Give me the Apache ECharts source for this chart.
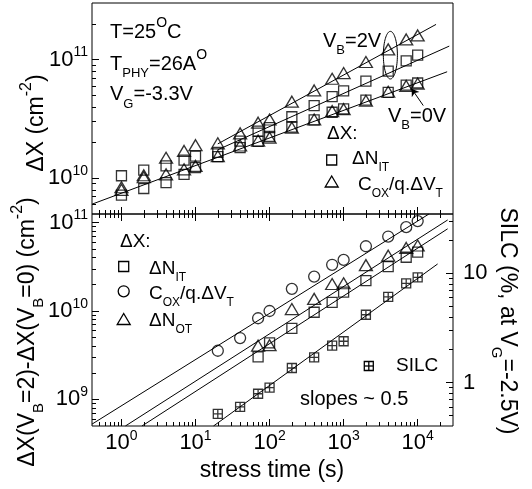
<!DOCTYPE html>
<html>
<head>
<meta charset="utf-8">
<title>stress time</title>
<script src="https://cdn.jsdelivr.net/npm/echarts@6/dist/echarts.min.js"></script>
<style>
  html, body { margin: 0; padding: 0; background: #fff; }
  #main { width: 532px; height: 489px; }
</style>
</head>
<body>
<div id="main"></div>
<script>
// ---- values ----
// stress time (s)
var stressTime = [1, 2, 4, 7, 10, 20, 40, 70, 100, 200, 400, 700, 1000, 2000, 4000, 7000, 10000];

// upper panel, dX (cm^-2)
var nitVB2 = [1.05e10, 1.17e10, 1.27e10, 1.42e10, 1.54e10, 1.65e10, 2.06e10, 2.5e10, 2.67e10, 3.3e10, 4.1e10, 4.87e10, 5.46e10, 6.6e10, 8.0e10, 9.75e10, 1.09e11];
var cvtVB2 = [8.4e9, 1.06e10, 1.49e10, 1.7e10, 1.9e10, 1.97e10, 2.39e10, 2.94e10, 3.13e10, 4.42e10, 5.5e10, 6.9e10, 7.7e10, 9.55e10, 1.22e11, 1.48e11, 1.6e11];
var nitVB0 = [7.2e9, 8.2e9, 9.2e9, 1.08e10, 1.23e10, 1.52e10, 1.81e10, 2.05e10, 2.25e10, 2.7e10, 3.1e10, 3.6e10, 3.85e10, 4.55e10, 5.3e10, 6.1e10, 6.35e10];
var cvtVB0 = [8.0e9, 1.02e10, 1.08e10, 1.19e10, 1.27e10, 1.54e10, 1.89e10, 2.08e10, 2.2e10, 2.67e10, 3.13e10, 3.68e10, 3.82e10, 4.5e10, 5.36e10, 6.0e10, 6.28e10];

// fitted lines, end points [t, dX]
var fitCvtVB2 = [[20, 1.95e10], [1.77e4, 1.98e11]];
var fitNitVB2 = [[20, 1.74e10], [2.67e4, 1.30e11]];
var fitVB0 = [[0.4, 6.05e9], [2.5e4, 7.9e10]];

// circled V_B=2V points: [t centre, dX centre, t left, dX top]
var circled = [4280, 1.09e11, 3440, 1.73e11];
// arrow from the V_B=0V label: tail, head
var arrowVB0 = [[1.19e4, 4.1e10], [8.3e3, 5.68e10]];

// lower panel, dX(VB=2)-dX(VB=0) (cm^-2) and SILC (%)
var timeCvt = [20, 40, 70, 100, 200, 400, 700, 1000, 2000, 4000, 7000, 10000];
var diffCvt = [3.55e9, 4.94e9, 8.27e9, 1.0e10, 1.78e10, 2.45e10, 3.33e10, 3.78e10, 5.4e10, 6.95e10, 8.87e10, 1.04e11];
var timeN = [70, 100, 200, 400, 700, 1000, 2000, 4000, 7000, 10000];
var diffNit = [3.03e9, 4.35e9, 6.37e9, 9.67e9, 1.25e10, 1.63e10, 2.2e10, 3.18e10, 4.05e10, 4.62e10];
var diffNot = [4.05e9, 4.1e9, 1.05e10, 1.37e10, 2.02e10, 2.06e10, 3.3e10, 4.22e10, 5.17e10, 5.5e10];
var timeSilc = [20, 40, 70, 100, 200, 400, 700, 1000, 2000, 4000, 7000, 10000];
var silc = [0.517, 0.6, 0.79, 0.9, 1.36, 1.7, 2.18, 2.39, 4.18, 6.1, 8.09, 9.18];

var fitDiffCvt = [[0.4, 5.25e8], [1.42e4, 1.25e11]];
var fitDiffNot = [[1.13, 5e8], [2.54e4, 1.07e11]];
var fitDiffNit = [[1.89, 5e8], [2.54e4, 8.5e10]];
var fitSilc = [[17.5, 0.4], [1.86e4, 12.2]];

// axes
var timeRange = [0.4, 3e4];
var topRange = [5e9, 3e11];
var diffRange = [5e8, 1.25e11];
var silcRange = [0.4, 35];
var timeDecades = [0, 1, 2, 3, 4];
var topDecades = [10, 11];
var diffDecades = [9, 10, 11];
var silcDecades = [0, 1];

var F = "'Liberation Sans', Arial, sans-serif";

function lg(v) { return Math.log10(v); }
function toLog(ts, vs) { return ts.map(function (t, i) { return [lg(t), lg(vs[i])]; }); }
function segLog(p) { return p.map(function (q) { return [lg(q[0]), lg(q[1])]; }); }
function majors(r) {
  var out = [];
  for (var n = Math.ceil(lg(r[0]) - 1e-9); n <= Math.floor(lg(r[1]) + 1e-9); n++) out.push(n);
  return out;
}
function minors(r) {
  var out = [];
  for (var n = Math.floor(lg(r[0])); n <= Math.ceil(lg(r[1])); n++) {
    for (var k = 2; k <= 9; k++) {
      var v = k * Math.pow(10, n);
      if (v > r[0] * 1.0001 && v < r[1] * 0.9999) out.push(lg(v));
    }
  }
  return out;
}

var tickRich = {
  b: { fontSize: 22, fontFamily: F, lineHeight: 28, color: '#000' },
  s: { fontSize: 14, fontFamily: F, lineHeight: 18, verticalAlign: 'top', color: '#000' }
};
function pow10Label(v) { return '{b|10}{s|' + Math.round(v) + '}'; }
function plainLabel(v) { return '{b|' + Math.round(Math.pow(10, v)) + '}'; }

function axis(grid, pos, range, len, ticks, labels, fmt, margin) {
  return {
    type: 'value', gridIndex: grid, position: pos,
    min: lg(range[0]), max: lg(range[1]),
    axisLine: { show: false, onZero: false },
    axisTick: { show: true, inside: true, length: len, customValues: ticks,
      lineStyle: { color: '#000', width: 1 } },
    axisLabel: labels ? { show: true, customValues: labels, formatter: fmt, margin: margin, rich: tickRich }
                      : { show: false },
    splitLine: { show: false }
  };
}

function scat(xi, yi, data, symbol, size) {
  return {
    type: 'scatter', xAxisIndex: xi, yAxisIndex: yi, data: data,
    symbol: symbol, symbolSize: size, silent: true, z: 3,
    itemStyle: { color: 'transparent', borderColor: '#000', borderWidth: 1.3 }
  };
}
function fit(xi, yi, data) {
  return {
    type: 'line', xAxisIndex: xi, yAxisIndex: yi, data: data,
    symbol: 'none', showSymbol: false, silent: true, z: 2, clip: true,
    lineStyle: { color: '#000', width: 1 }
  };
}

var silcSymbol = 'path://M0,0L10,0L10,10L0,10Z M5,0L5,10 M0,5L10,5';

// rich text for annotations
function rich(s) {
  var sub = Math.round(s * 0.65), sup = Math.round(s * 0.68);
  return {
    b: { font: s + 'px ' + F, lineHeight: Math.round(s * 1.6), fill: '#000' },
    sub: { font: sub + 'px ' + F, lineHeight: sub, verticalAlign: 'bottom', fill: '#000' },
    sup: { font: sup + 'px ' + F, lineHeight: s, verticalAlign: 'top', fill: '#000' }
  };
}
function note(x, y, text, size, align, rot) {
  return {
    type: 'text', x: x, y: y, rotation: rot || 0, silent: true, z: 10,
    style: {
      text: text, fill: '#000', font: size + 'px ' + F,
      align: align || 'left', verticalAlign: 'middle',
      textAlign: align || 'left', textVerticalAlign: 'middle',
      rich: rich(size)
    }
  };
}
var stroke = { fill: 'none', stroke: '#000', lineWidth: 1.3 };
function boxSym(cx, cy, s) {
  return { type: 'rect', silent: true, shape: { x: cx - s / 2, y: cy - s / 2, width: s, height: s }, style: stroke };
}
function triSym(cx, cy, w, h) {
  return { type: 'polygon', silent: true,
    shape: { points: [[cx, cy - h / 2], [cx + w / 2, cy + h / 2], [cx - w / 2, cy + h / 2]] }, style: stroke };
}
function ringSym(cx, cy, r) {
  return { type: 'circle', silent: true, shape: { cx: cx, cy: cy, r: r }, style: stroke };
}
function silcSym(cx, cy, s) {
  return { type: 'group', silent: true, children: [
    boxSym(cx, cy, s),
    { type: 'line', shape: { x1: cx, y1: cy - s / 2, x2: cx, y2: cy + s / 2 }, style: stroke },
    { type: 'line', shape: { x1: cx - s / 2, y1: cy, x2: cx + s / 2, y2: cy }, style: stroke }
  ] };
}

var chart = echarts.init(document.getElementById('main'));

chart.setOption({
  animation: false,
  backgroundColor: '#fff',
  grid: [
    { left: 92, top: 3, width: 361, height: 211, show: true, borderColor: '#000', borderWidth: 1, backgroundColor: 'transparent' },
    { left: 92, top: 214, width: 361, height: 212, show: true, borderColor: '#000', borderWidth: 1, backgroundColor: 'transparent' }
  ],
  xAxis: [
    axis(0, 'bottom', timeRange, 7, majors(timeRange)),
    axis(0, 'bottom', timeRange, 4, minors(timeRange)),
    axis(1, 'bottom', timeRange, 7, majors(timeRange), timeDecades, pow10Label, 3),
    axis(1, 'bottom', timeRange, 4, minors(timeRange)),
    axis(1, 'top', timeRange, 7, majors(timeRange)),
    axis(1, 'top', timeRange, 4, minors(timeRange))
  ],
  yAxis: [
    axis(0, 'left', topRange, 7, majors(topRange), topDecades, pow10Label, 4),
    axis(0, 'left', topRange, 4, minors(topRange)),
    axis(1, 'left', diffRange, 7, majors(diffRange), diffDecades, pow10Label, 4),
    axis(1, 'left', diffRange, 4, minors(diffRange)),
    axis(1, 'right', silcRange, 7, majors(silcRange), silcDecades, plainLabel, 10),
    axis(1, 'right', silcRange, 4, minors(silcRange))
  ],
  series: [
    // upper panel
    fit(0, 0, segLog(fitCvtVB2)),
    fit(0, 0, segLog(fitNitVB2)),
    fit(0, 0, segLog(fitVB0)),
    scat(0, 0, toLog(stressTime, nitVB2), 'rect', 10),
    scat(0, 0, toLog(stressTime, nitVB0), 'rect', 10),
    scat(0, 0, toLog(stressTime, cvtVB2), 'triangle', [13, 11]),
    scat(0, 0, toLog(stressTime, cvtVB0), 'triangle', [13, 11]),
    {
      type: 'custom', xAxisIndex: 0, yAxisIndex: 0, silent: true, z: 4,
      data: [[lg(circled[0]), lg(circled[1]), lg(circled[2]), lg(circled[3])]],
      renderItem: function (params, api) {
        var c = api.coord([api.value(0), api.value(1)]);
        var l = api.coord([api.value(2), api.value(1)]);
        var t = api.coord([api.value(0), api.value(3)]);
        var rx = c[0] - l[0], ry = c[1] - t[1], p = [];
        for (var i = 0; i < 72; i++) {
          var a = i / 72 * Math.PI * 2;
          p.push([c[0] + rx * Math.cos(a), c[1] + ry * Math.sin(a)]);
        }
        return { type: 'polygon', shape: { points: p }, style: { fill: 'none', stroke: '#000', lineWidth: 1 } };
      }
    },
    {
      type: 'lines', coordinateSystem: 'cartesian2d', xAxisIndex: 0, yAxisIndex: 0, silent: true, z: 4,
      data: [{ coords: segLog(arrowVB0) }],
      symbol: ['none', 'arrow'], symbolSize: 7,
      lineStyle: { color: '#000', width: 1, opacity: 1, curveness: 0 }
    },
    // lower panel
    fit(2, 2, segLog(fitDiffCvt)),
    fit(2, 2, segLog(fitDiffNot)),
    fit(2, 2, segLog(fitDiffNit)),
    fit(2, 4, segLog(fitSilc)),
    scat(2, 2, toLog(timeCvt, diffCvt), 'circle', 11),
    scat(2, 2, toLog(timeN, diffNot), 'triangle', [13, 11]),
    scat(2, 2, toLog(timeN, diffNit), 'rect', 10),
    scat(2, 4, toLog(timeSilc, silc), silcSymbol, 9)
  ],
  graphic: [
    note(110, 32, '{b|T=25}{sup|O}{b|C}', 20),
    note(110, 64, '{b|T}{sub|PHY}{b|=26A}{sup|O}', 20),
    note(110, 94.5, '{b|V}{sub|G}{b|=-3.3V}', 20),
    note(323, 41, '{b|V}{sub|B}{b|=2V}', 20),
    note(388, 116, '{b|V}{sub|B}{b|=0V}', 20),
    note(327, 134, '{b|\u0394X:}', 19),
    boxSym(331.7, 160, 10),
    note(352, 159, '{b|\u0394N}{sub|IT}', 19),
    triSym(331.7, 181.5, 13, 11),
    note(358, 185, '{b|C}{sub|OX}{b|/q.\u0394V}{sub|T}', 19),

    note(120, 241.5, '{b|\u0394X:}', 19),
    boxSym(123.7, 266.5, 10),
    note(149, 269, '{b|\u0394N}{sub|IT}', 19),
    ringSym(123.7, 291.3, 5.5),
    note(149, 293.5, '{b|C}{sub|OX}{b|/q.\u0394V}{sub|T}', 19),
    triSym(123.7, 319, 13, 11),
    note(149, 321, '{b|\u0394N}{sub|OT}', 19),
    silcSym(368.8, 366, 9),
    note(396, 365.5, '{b|SILC}', 19),
    note(300, 399.5, '{b|slopes ~ 0.5}', 20),

    note(37, 123, '{b|\u0394X (cm}{sup|-2}{b|)}', 23, 'center', Math.PI / 2),
    note(28, 332, '{b|\u0394X(V}{sub|B}{b|=2)-\u0394X(V}{sub|B}{b|=0) (cm}{sup|-2}{b|)}', 23, 'center', Math.PI / 2),
    note(507, 321, '{b|SILC (%, at V}{sub|G}{b|=-2.5V)}', 23, 'center', -Math.PI / 2),
    note(272, 471, '{b|stress time (s)}', 23, 'center')
  ]
});
</script>
</body>
</html>
